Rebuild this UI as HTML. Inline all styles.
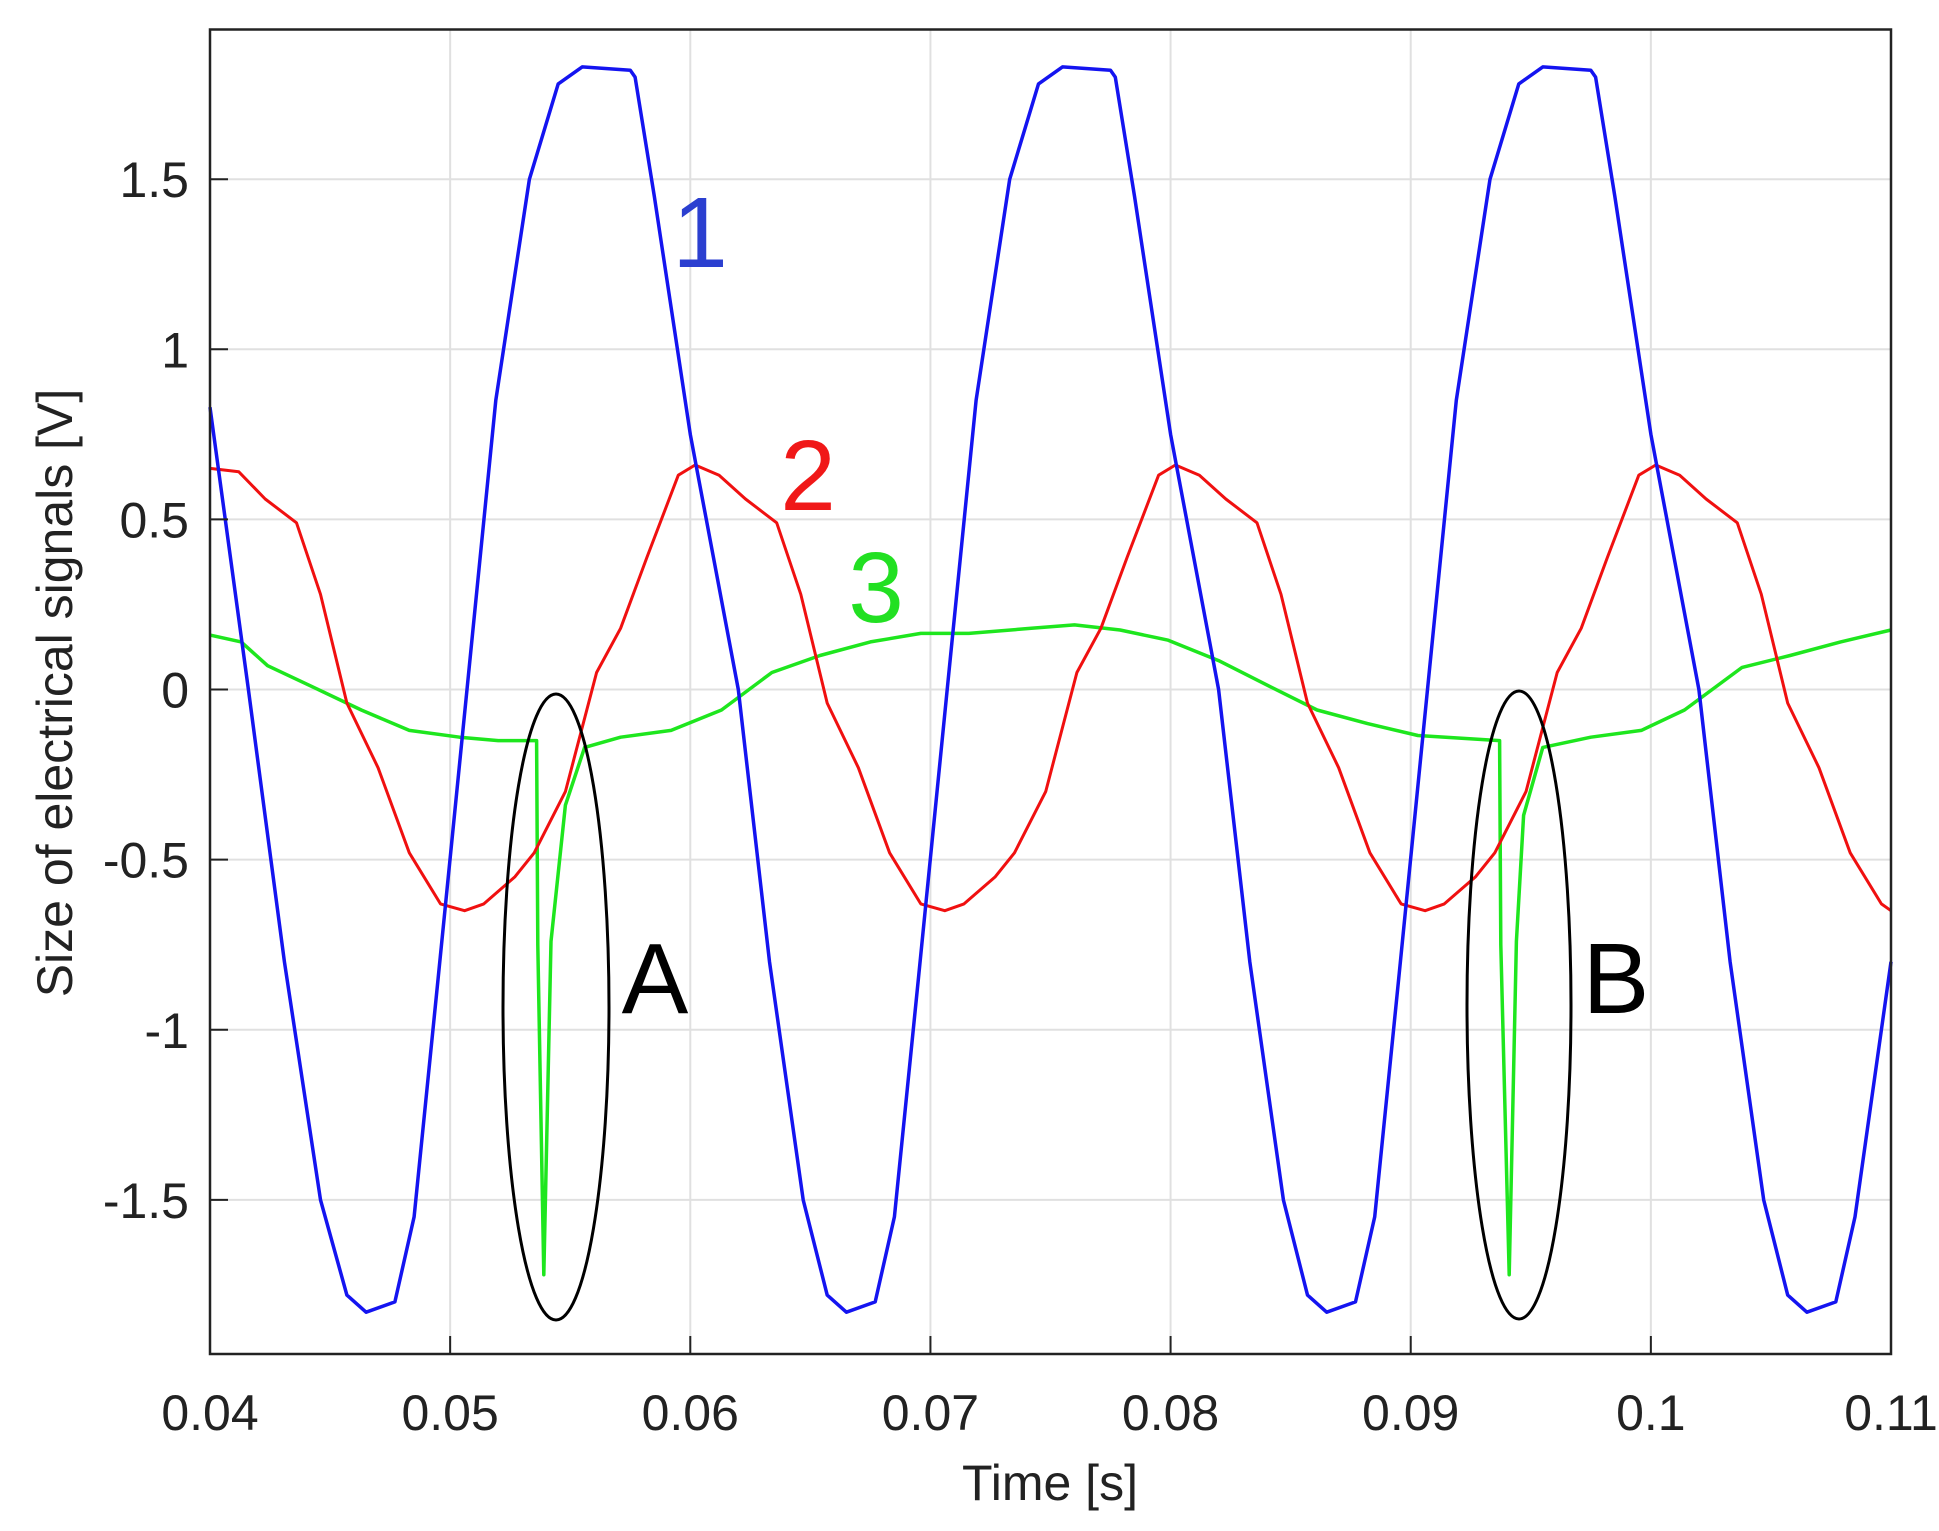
<!DOCTYPE html>
<html><head><meta charset="utf-8"><style>
html,body{margin:0;padding:0;background:#fff;}
svg{display:block;font-family:"Liberation Sans",Arial,sans-serif;}
</style></head><body>
<svg id="chart" width="1939" height="1531" viewBox="0 0 1939 1531" xmlns="http://www.w3.org/2000/svg">
<rect x="0" y="0" width="1939" height="1531" fill="#fff"/>
<g id="grid"></g>
<g id="series"></g>
<g id="axes"></g>
<text x="1050" y="1500" font-size="50" text-anchor="middle" fill="#222">Time [s]</text>
<text transform="translate(72,693) rotate(-90)" font-size="50" text-anchor="middle" fill="#222">Size of electrical signals [V]</text>
<text x="700" y="267" font-size="100" text-anchor="middle" fill="#2b3fd0">1</text>
<text x="808" y="510" font-size="100" text-anchor="middle" fill="#f01818">2</text>
<text x="876" y="622" font-size="100" text-anchor="middle" fill="#22e022">3</text>
<ellipse cx="556" cy="1007" rx="53" ry="313" fill="none" stroke="#000" stroke-width="3"/>
<ellipse cx="1519" cy="1005" rx="52" ry="314" fill="none" stroke="#000" stroke-width="3"/>
<text x="655" y="1013" font-size="100" text-anchor="middle" fill="#000">A</text>
<text x="1616" y="1013" font-size="100" text-anchor="middle" fill="#000">B</text>
</svg>
<script>
const xTicks = [0.04,0.05,0.06,0.07,0.08,0.09,0.1,0.11];
const xTickLabels = ["0.04","0.05","0.06","0.07","0.08","0.09","0.1","0.11"];
const yTicks = [-1.5,-1,-0.5,0,0.5,1,1.5];
const yTickLabels = ["-1.5","-1","-0.5","0","0.5","1","1.5"];

const blueT = [0.0400,0.0416,0.0431,0.0446,0.0457,0.0465,0.0477,0.0485,0.0495,0.0507,0.0519,0.0533,0.0545,0.0555,0.0575,0.0577,0.0585,0.0600,0.0620,0.0633,0.0647,0.0657,0.0665,0.0677,0.0685,0.0695,0.0707,0.0719,0.0733,0.0745,0.0755,0.0775,0.0777,0.0785,0.0800,0.0820,0.0833,0.0847,0.0857,0.0865,0.0877,0.0885,0.0895,0.0907,0.0919,0.0933,0.0945,0.0955,0.0975,0.0977,0.0985,0.1000,0.1020,0.1033,0.1047,0.1057,0.1065,0.1077,0.1085,0.1100];
const blueV = [0.83,0.0,-0.8,-1.5,-1.78,-1.83,-1.80,-1.55,-0.85,0.0,0.85,1.5,1.78,1.83,1.82,1.80,1.45,0.75,0.0,-0.8,-1.5,-1.78,-1.83,-1.80,-1.55,-0.85,0.0,0.85,1.5,1.78,1.83,1.82,1.80,1.45,0.75,0.0,-0.8,-1.5,-1.78,-1.83,-1.80,-1.55,-0.85,0.0,0.85,1.5,1.78,1.83,1.82,1.80,1.45,0.75,0.0,-0.8,-1.5,-1.78,-1.83,-1.80,-1.55,-0.80];

const redT = [0.0400,0.0412,0.0423,0.0436,0.0446,0.0457,0.0470,0.0483,0.0496,0.0506,0.0514,0.0527,0.0535,0.0548,0.0561,0.0571,0.0582,0.0595,0.0602,0.0612,0.0623,0.0636,0.0646,0.0657,0.0670,0.0683,0.0696,0.0706,0.0714,0.0727,0.0735,0.0748,0.0761,0.0771,0.0782,0.0795,0.0802,0.0812,0.0823,0.0836,0.0846,0.0857,0.0870,0.0883,0.0896,0.0906,0.0914,0.0927,0.0935,0.0948,0.0961,0.0971,0.0982,0.0995,0.1002,0.1012,0.1023,0.1036,0.1046,0.1057,0.1070,0.1083,0.1096,0.1100];
const redV = [0.65,0.64,0.56,0.49,0.28,-0.04,-0.23,-0.48,-0.63,-0.65,-0.63,-0.55,-0.48,-0.30,0.05,0.18,0.39,0.63,0.66,0.63,0.56,0.49,0.28,-0.04,-0.23,-0.48,-0.63,-0.65,-0.63,-0.55,-0.48,-0.30,0.05,0.18,0.39,0.63,0.66,0.63,0.56,0.49,0.28,-0.04,-0.23,-0.48,-0.63,-0.65,-0.63,-0.55,-0.48,-0.30,0.05,0.18,0.39,0.63,0.66,0.63,0.56,0.49,0.28,-0.04,-0.23,-0.48,-0.63,-0.65];

const greenT = [0.0400,0.0413,0.0424,0.0442,0.0463,0.0483,0.0504,0.0520,0.0536,0.05365,0.0539,0.0542,0.0548,0.0556,0.0571,0.0592,0.0613,0.0634,0.0654,0.0675,0.0696,0.0716,0.0742,0.0760,0.0779,0.0799,0.0820,0.0841,0.0861,0.0882,0.0903,0.0937,0.09375,0.0941,0.0944,0.0947,0.0955,0.0975,0.0996,0.1014,0.1038,0.1058,0.1079,0.1100];
const greenV = [0.16,0.14,0.07,0.01,-0.06,-0.12,-0.14,-0.15,-0.15,-0.75,-1.72,-0.74,-0.34,-0.17,-0.14,-0.12,-0.06,0.05,0.10,0.14,0.165,0.165,0.18,0.19,0.175,0.145,0.085,0.01,-0.06,-0.10,-0.135,-0.15,-0.75,-1.72,-0.74,-0.37,-0.17,-0.14,-0.12,-0.06,0.065,0.10,0.14,0.175];

const L=210, R=1891, T=29.5, B=1354;
const X0=0.04, X1=0.11, Y0=-1.953, Y1=1.94;
function xs(t){return L+(t-X0)/(X1-X0)*(R-L);}
function ys(v){return B-(v-Y0)/(Y1-Y0)*(B-T);}
const NS="http://www.w3.org/2000/svg";
function mk(tag,attrs,parent){const e=document.createElementNS(NS,tag);for(const k in attrs)e.setAttribute(k,attrs[k]);parent.appendChild(e);return e;}
const grid=document.getElementById('grid'), axes=document.getElementById('axes'), series=document.getElementById('series');

xTicks.forEach((t,i)=>{
  const g=mk('line',{x1:xs(t),x2:xs(t),y1:T,y2:B,stroke:'#e0e0e0','stroke-width':2},grid);
  
  
  const tk=mk('line',{x1:xs(t),x2:xs(t),y1:B,y2:B-18,stroke:'#222','stroke-width':2},axes);
  
  
  const lb=mk('text',{x:xs(t),y:1430,'font-size':50,'text-anchor':'middle',fill:'#222'},axes);
  lb.textContent=xTickLabels[i];
  
  
});
yTicks.forEach((v,i)=>{
  const g=mk('line',{x1:L,x2:R,y1:ys(v),y2:ys(v),stroke:'#e0e0e0','stroke-width':2},grid);
  
  
  const tk=mk('line',{x1:L,x2:L+18,y1:ys(v),y2:ys(v),stroke:'#222','stroke-width':2},axes);
  
  
  const lb=mk('text',{x:189,y:ys(v)+18,'font-size':50,'text-anchor':'end',fill:'#222'},axes);
  lb.textContent=yTickLabels[i];
  
  
});
const frame=mk('rect',{x:L,y:T,width:R-L,height:B-T,fill:'none',stroke:'#222','stroke-width':2.5},axes);



function line(ts,vs,color,w){
  return mk('polyline',{points:ts.map((t,i)=>xs(t).toFixed(1)+','+ys(vs[i]).toFixed(1)).join(' '),fill:'none',stroke:color,'stroke-width':w,'stroke-linejoin':'round'},series);
}
const sg=line(greenT,greenV,'#1ee61e',3.5);


const sr=line(redT,redV,'#f01010',3);


const sb=line(blueT,blueV,'#1414f0',3.5);


</script>
</body></html>
